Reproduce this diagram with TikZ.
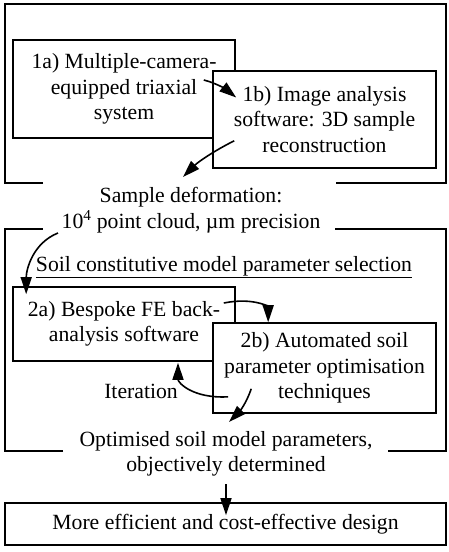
\documentclass[tikz,border=0pt]{standalone}
\usepackage{fontspec}
\setmainfont{Liberation Serif}
\usepackage{tikz}
\usetikzlibrary{arrows.meta,calc}
\tikzset{
  caixa/.style={rectangle, draw, fill=white, line width=1.6pt, align=center, inner sep=0pt},
  rotulo/.style={align=center, inner sep=0pt},
  seta/.style={-{Triangle[length=17pt,width=11pt]}, draw, line width=1.6pt},
  moldura/.style={draw, line width=1.6pt},
}

\begin{document}
\begin{tikzpicture}[x=1pt, y=-1pt, font=\fontsize{21.7}{25.5}\selectfont]
    \useasboundingbox (0,0) rectangle (449,552);
    % molduras abertas
    \draw[moldura] (43,183) -| (5,4) -| (446,183) -- (336,183);
    \draw[moldura] (63,451) -| (5,229) -- (43,229);
    \draw[moldura] (335,229) -| (446,451) -- (388,451);
    % etapa 1
    \node[caixa, minimum width=222pt, minimum height=98pt] (c1a) at (124,89) {1a) Multiple-camera-\\equipped triaxial\\system};
    \node[caixa, minimum width=223pt, minimum height=97pt] (c1b) at (324.5,119.5) {1b) Image analysis\\software: 3D sample\\reconstruction};
    \node[rotulo] (sd) at (191,210) {Sample deformation:\\10\textsuperscript{4} point cloud, µm precision};
    % etapa 2
    \node[rotulo] (ttl) at (224,267) {\underline{Soil constitutive model parameter selection}};
    \node[caixa, minimum width=222pt, minimum height=74pt] (c2a) at (124,324) {2a) Bespoke FE back-\\analysis software};
    \node[caixa, minimum width=223pt, minimum height=90pt] (c2b) at (324.5,368) {2b) Automated soil\\parameter optimisation\\techniques};
    \node[rotulo] (it) at (141,391) {Iteration};
    \node[rotulo] (opt) at (226,454) {Optimised soil model parameters,\\objectively determined};
    \node[caixa, minimum width=441pt, minimum height=42pt] (fin) at (225.5,524) {More efficient and cost-effective design};
    % ligacoes
    \draw[seta] ($(c1a.east)+(-32,-9)$) .. controls +(12,3) and +(-10,-8) .. ($(c1b.west)+(24,-22)$);
    \draw[seta] ($(c1b.south west)+(22,-28)$) .. controls +(-20,10) and +(15,-15) .. ($(sd)+(-8,-33)$);
    \draw[seta] ($(sd)+(-133,23)$) .. controls +(-25,10) and +(0,-25) .. ($(c2a.north west)+(14,8)$);
    \draw[seta] ($(c2a.east)+(-12,-21)$) .. controls +(30,-6) and +(0,-15) .. ($(c2b.north west)+(56,0)$);
    \draw[seta] ($(c2b.south west)+(16,-17)$) .. controls +(-35,2) and +(0,20) .. ($(c2a.south)+(54,1)$);
    \draw[seta] ($(c2b.south west)+(39,-25)$) .. controls +(-5,15) and +(10,-10) .. ($(opt)+(3,-32)$);
    \draw[seta] ($(opt)+(0,30)$) -- ($(fin.north)+(0.5,13)$);
\end{tikzpicture}
\end{document}
